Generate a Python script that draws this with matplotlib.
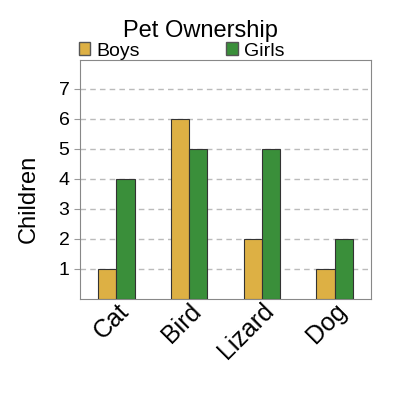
import matplotlib
matplotlib.use("Agg")
import matplotlib.pyplot as plt
import numpy as np
from matplotlib.patches import Patch

pets = ["Cat", "Bird", "Lizard", "Dog"]
boys = [1, 6, 2, 1]
girls = [4, 5, 5, 2]
yticks = [1, 2, 3, 4, 5, 6, 7]

boy_color = "#DDB044"
girl_color = "#3A8F3A"

plt.rcParams["font.family"] = ["Liberation Sans", "DejaVu Sans"]

fig = plt.figure(figsize=(4, 4), dpi=100)
ax = fig.add_axes([0.2, 0.2525, 0.7275, 0.5975])

x = np.arange(len(pets))
w = 0.25
ax.bar(x - w / 2, boys, w, color=boy_color, edgecolor="#333333", linewidth=0.8, zorder=3)
ax.bar(x + w / 2, girls, w, color=girl_color, edgecolor="#333333", linewidth=0.8, zorder=3)

ax.set_xlim(-0.5, 3.5)
ax.set_ylim(0, 7.95)
ax.set_yticks(yticks)
ax.set_xticks(x)
ax.set_xticklabels(pets, rotation=45, ha="right", rotation_mode="anchor", fontsize=18)
ax.tick_params(axis="y", labelsize=14, length=4, color="#999999")
ax.tick_params(axis="x", length=0, pad=0)
ax.yaxis.grid(True, linestyle=(0, (4, 3)), color="#bbbbbb", linewidth=1, zorder=0)
for s in ax.spines.values():
    s.set_color("#888888")

ax.set_ylabel("Children", fontsize=17)
ax.yaxis.set_label_coords(-0.138, 0.42)
fig.text(0.5, 0.922, "Pet Ownership", ha="center", va="center", fontsize=17)

handles = [Patch(facecolor=boy_color, edgecolor="#555555"),
           Patch(facecolor=girl_color, edgecolor="#555555")]
fig.legend(handles, ["Boys", "Girls"], loc="center left", bbox_to_anchor=(0.1775, 0.8725),
           ncol=2, frameon=False, fontsize=14, handlelength=0.6, handleheight=0.6,
           handletextpad=0.3, columnspacing=4.45, borderaxespad=0)

fig.savefig("out.png", dpi=100)
